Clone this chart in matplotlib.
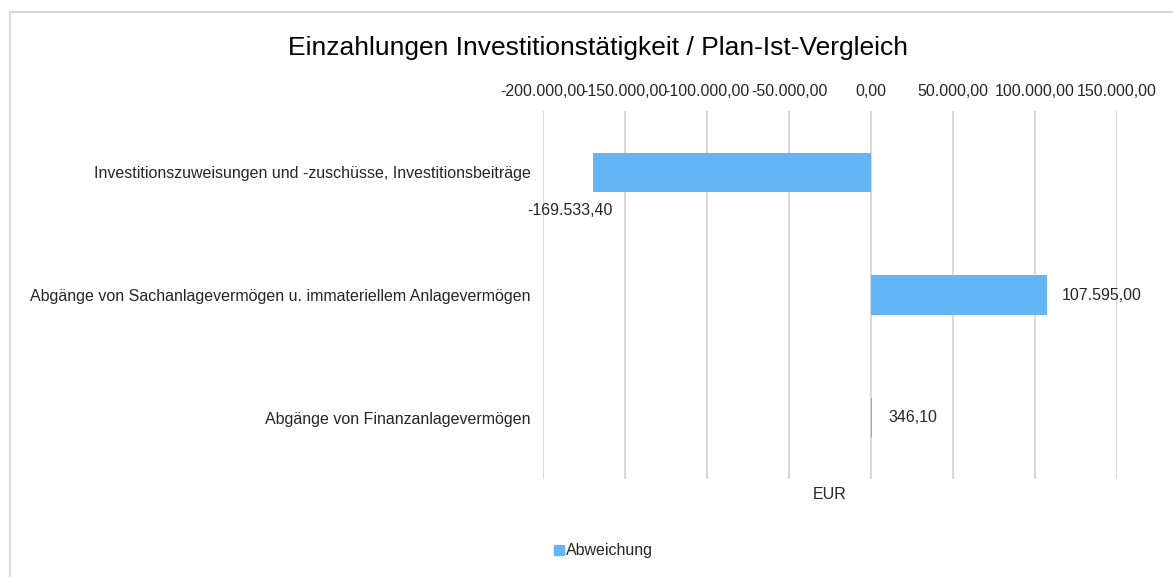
import matplotlib
matplotlib.use("Agg")
import matplotlib.pyplot as plt
from matplotlib.patches import Rectangle
from matplotlib.lines import Line2D

plt.rcParams['font.family'] = ['Liberation Sans', 'DejaVu Sans']

categories = [
    "Investitionszuweisungen und -zuschüsse, Investitionsbeiträge",
    "Abgänge von Sachanlagevermögen u. immateriellem Anlagevermögen",
    "Abgänge von Finanzanlagevermögen",
]
abweichung = [-169533.40, 107595.00, 346.10]
x_ticks = [-200000, -150000, -100000, -50000, 0, 50000, 100000, 150000]

bar_color = "#63B5F5"
text_color = "#262626"
grid_color = "#D9D9D9"
fs = 11.5


def de_format(v):
    s = f"{v:,.2f}"
    return s.replace(",", "X").replace(".", ",").replace("X", ".")


fig = plt.figure(figsize=(11.73, 5.77), dpi=100)
ax = fig.add_axes([543 / 1173, 1 - 479 / 577, 574 / 1173, 368 / 577])

y = list(range(len(categories)))
ax.barh(y, abweichung, height=0.32, color=bar_color, zorder=3)

ax.set_xlim(-200000, 150000)
ax.set_ylim(len(categories) - 0.5, -0.5)
ax.set_xticks(x_ticks)
ax.set_xticklabels([de_format(t) for t in x_ticks])
ax.xaxis.tick_top()
ax.xaxis.set_label_position("bottom")
ax.set_yticks(y)
ax.set_yticklabels(categories)
ax.tick_params(axis="x", length=0, pad=9, labelsize=fs, colors=text_color)
ax.tick_params(axis="y", length=0, pad=9, labelsize=fs, colors=text_color)
ax.grid(axis="x", color=grid_color, linewidth=1.5, zorder=0)
for s in ax.spines.values():
    s.set_visible(False)
ax.set_xlabel("EUR", fontsize=fs, color=text_color, labelpad=6)

# value labels
ax.annotate(de_format(abweichung[0]), (abweichung[0], 0.16), xytext=(14, -8),
            textcoords="offset points", ha="right", va="top", fontsize=fs, color=text_color)
ax.annotate(de_format(abweichung[1]), (abweichung[1], 1), xytext=(10, 0),
            textcoords="offset points", ha="left", va="center", fontsize=fs, color=text_color)
ax.annotate(de_format(abweichung[2]), (abweichung[2], 2), xytext=(12, 0),
            textcoords="offset points", ha="left", va="center", fontsize=fs, color=text_color)

fig.text(598 / 1173, 1 - 48 / 577, "Einzahlungen Investitionstätigkeit / Plan-Ist-Vergleich",
         ha="center", va="center", fontsize=19, color="black")

handle = Line2D([], [], marker="s", linestyle="none", markersize=6.5,
                markerfacecolor=bar_color, markeredgecolor=bar_color)
fig.legend([handle], ["Abweichung"], loc="center", bbox_to_anchor=(603 / 1173, 1 - 551 / 577),
           frameon=False, fontsize=fs, handletextpad=0.05, handlelength=0.7,
           labelcolor=text_color)

fig.patches.append(Rectangle((10 / 1173, -0.1), 2, 1 - 12 / 577 + 0.1,
                             transform=fig.transFigure, fill=False,
                             edgecolor=grid_color, linewidth=1.5))

fig.savefig("out.png", dpi=100)
